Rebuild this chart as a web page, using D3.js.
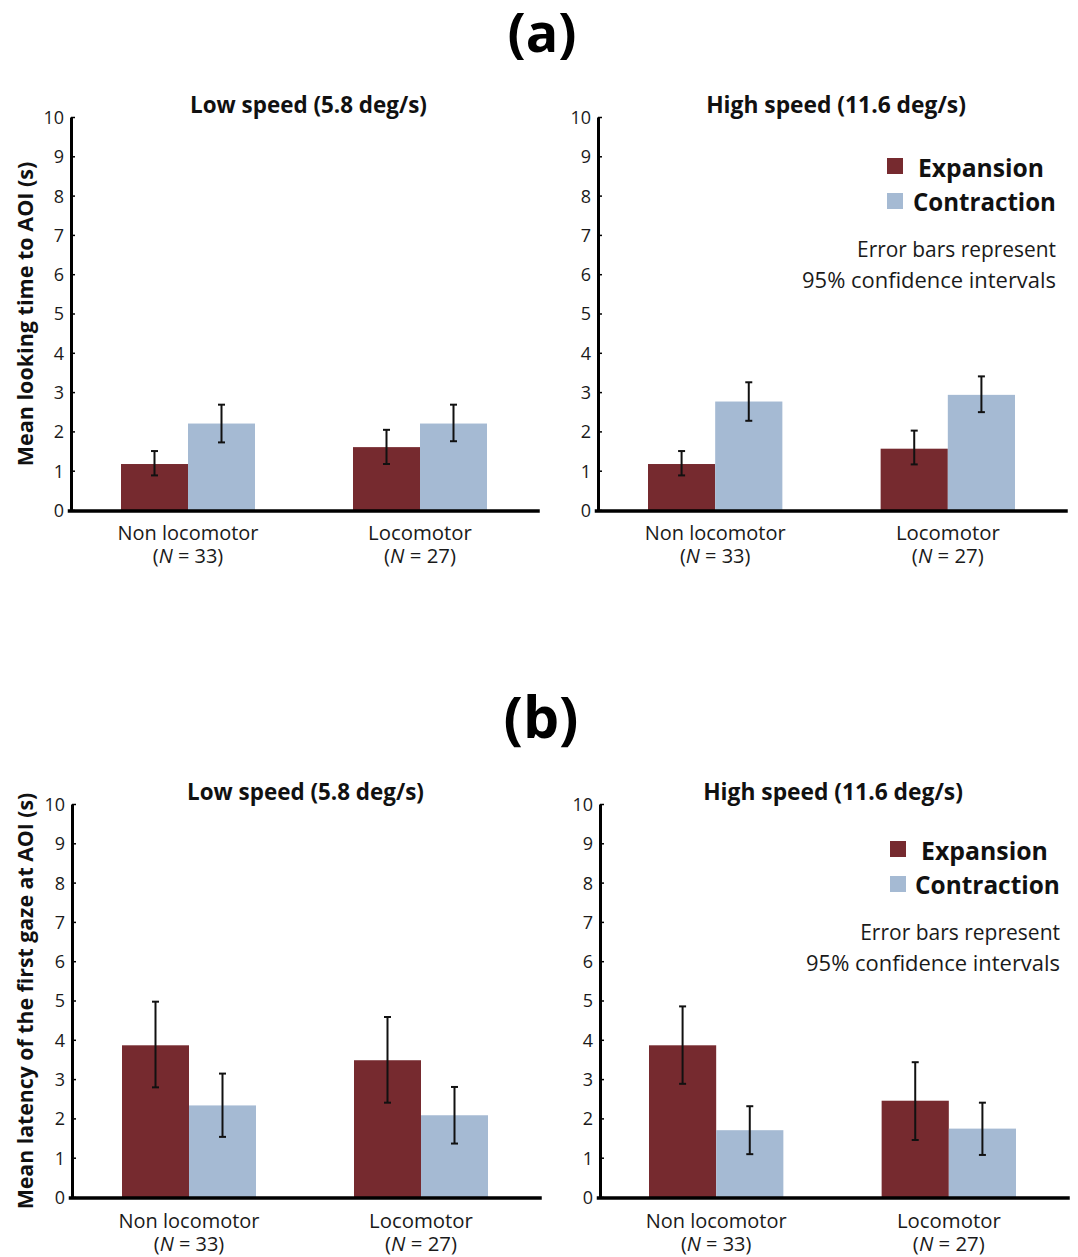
<!DOCTYPE html>
<html><head><meta charset="utf-8">
<script src="https://cdn.jsdelivr.net/npm/d3@7"></script>
<style>body{margin:0;background:#fff} svg{display:block;background:#fff}</style>
</head><body><svg id="chart" width="1078" height="1257"></svg>
<script>
// ---------- data ----------
const categories = ["Non locomotor", "Locomotor"];
const groupN = ["33", "27"];
const seriesNames = ["Expansion", "Contraction"];
const yTickValues = [0, 1, 2, 3, 4, 5, 6, 7, 8, 9, 10];
const panelTitles = ["Low speed (5.8 deg/s)", "High speed (11.6 deg/s)"];
const figureLabels = ["(a)", "(b)"];
const yAxisTitles = ["Mean looking time to AOI (s)", "Mean latency of the first gaze at AOI (s)"];
const noteLines = ["Error bars represent", "95% confidence intervals"];

// (a) mean looking time, low speed
const aLowExpansion   = [1.17, 1.60];
const aLowExpansionLo = [0.88, 1.17];
const aLowExpansionHi = [1.50, 2.04];
const aLowContraction   = [2.20, 2.20];
const aLowContractionLo = [1.72, 1.75];
const aLowContractionHi = [2.68, 2.68];
// (a) mean looking time, high speed
const aHighExpansion   = [1.17, 1.56];
const aHighExpansionLo = [0.88, 1.16];
const aHighExpansionHi = [1.50, 2.02];
const aHighContraction   = [2.76, 2.93];
const aHighContractionLo = [2.27, 2.49];
const aHighContractionHi = [3.25, 3.40];
// (b) latency of first gaze, low speed
const bLowExpansion   = [3.86, 3.48];
const bLowExpansionLo = [2.79, 2.40];
const bLowExpansionHi = [4.97, 4.58];
const bLowContraction   = [2.33, 2.08];
const bLowContractionLo = [1.53, 1.36];
const bLowContractionHi = [3.14, 2.80];
// (b) latency of first gaze, high speed
const bHighExpansion   = [3.86, 2.45];
const bHighExpansionLo = [2.88, 1.45];
const bHighExpansionHi = [4.85, 3.43];
const bHighContraction   = [1.70, 1.74];
const bHighContractionLo = [1.09, 1.07];
const bHighContractionHi = [2.31, 2.40];

const colors = {Expansion: "#762a2f", Contraction: "#a5bad3"};
const FONT = "'Open Sans', 'Noto Sans', sans-serif";

const svg = d3.select("#chart");
svg.append("rect").attr("width", 1078).attr("height", 1257).attr("fill", "#fff");

function fit(sel, width) {
  const w = sel.node().getComputedTextLength();
  const fs = parseFloat(sel.attr("font-size"));
  sel.attr("font-size", fs * width / w);
  return sel;
}

// ---------- layout ----------
const panels = [
  {exp: aLowExpansion, expLo: aLowExpansionLo, expHi: aLowExpansionHi,
   con: aLowContraction, conLo: aLowContractionLo, conHi: aLowContractionHi,
   ax: 71, axEnd: 538, yTop: 117, yBot: 510, b0: 121, b1: 487,
   title: panelTitles[0], tx: 308.5, tyB: 113, tw: 237, catY: 540, legend: null},
  {exp: aHighExpansion, expLo: aHighExpansionLo, expHi: aHighExpansionHi,
   con: aHighContraction, conLo: aHighContractionLo, conHi: aHighContractionHi,
   ax: 598, axEnd: 1066, yTop: 117, yBot: 510, b0: 648, b1: 1015,
   title: panelTitles[1], tx: 836, tyB: 113, tw: 260, catY: 540,
   legend: {sx: 887, sy: 158, ex: 918, ew: 126, cx: 913, cw: 143, nr: 1056, n1w: 199, n2w: 254, n1y: 257, n2y: 288}},
  {exp: bLowExpansion, expLo: bLowExpansionLo, expHi: bLowExpansionHi,
   con: bLowContraction, conLo: bLowContractionLo, conHi: bLowContractionHi,
   ax: 72, axEnd: 540, yTop: 804, yBot: 1197, b0: 122, b1: 488,
   title: panelTitles[0], tx: 305.5, tyB: 800, tw: 237, catY: 1228, legend: null},
  {exp: bHighExpansion, expLo: bHighExpansionLo, expHi: bHighExpansionHi,
   con: bHighContraction, conLo: bHighContractionLo, conHi: bHighContractionHi,
   ax: 600, axEnd: 1068, yTop: 804, yBot: 1197, b0: 649, b1: 1016,
   title: panelTitles[1], tx: 833, tyB: 800, tw: 260, catY: 1228,
   legend: {sx: 890, sy: 841, ex: 921, ew: 127, cx: 915, cw: 145, nr: 1060, n1w: 200, n2w: 254, n1y: 940, n2y: 971}}
];

panels.forEach(p => {
  const g = svg.append("g");
  const y = d3.scaleLinear().domain([0, 10]).range([p.yBot, p.yTop]);
  const x = d3.scaleBand().domain(categories).range([p.b0, p.b1]).paddingInner(0.4224).paddingOuter(0);
  const xs = d3.scaleBand().domain(seriesNames).range([0, x.bandwidth()]).padding(0);

  // bars
  const rows = categories.map((c, i) => ({
    cat: c,
    vals: [
      {s: "Expansion", v: p.exp[i], lo: p.expLo[i], hi: p.expHi[i]},
      {s: "Contraction", v: p.con[i], lo: p.conLo[i], hi: p.conHi[i]}
    ]
  }));
  const grp = g.selectAll("g.grp").data(rows).join("g")
    .attr("transform", d => `translate(${x(d.cat)},0)`);
  grp.selectAll("rect").data(d => d.vals).join("rect")
    .attr("x", d => xs(d.s)).attr("width", xs.bandwidth())
    .attr("y", d => y(d.v)).attr("height", d => y(0) - y(d.v))
    .attr("fill", d => colors[d.s]);
  // error bars
  const eb = grp.selectAll("g.eb").data(d => d.vals).join("g")
    .attr("transform", d => `translate(${xs(d.s) + xs.bandwidth() / 2},0)`);
  eb.append("line").attr("y1", d => y(d.lo)).attr("y2", d => y(d.hi))
    .attr("stroke", "#111").attr("stroke-width", 2);
  eb.append("line").attr("x1", -3.5).attr("x2", 3.5).attr("y1", d => y(d.hi)).attr("y2", d => y(d.hi))
    .attr("stroke", "#111").attr("stroke-width", 2);
  eb.append("line").attr("x1", -3.5).attr("x2", 3.5).attr("y1", d => y(d.lo)).attr("y2", d => y(d.lo))
    .attr("stroke", "#111").attr("stroke-width", 2);

  // y axis
  const yAxis = d3.axisLeft(y).tickValues(yTickValues).tickFormat(d3.format("d"))
    .tickSizeInner(-4).tickSizeOuter(0).tickPadding(7);
  const ya = g.append("g").attr("transform", `translate(${p.ax},0)`).call(yAxis);
  ya.select(".domain").attr("stroke", "#000").attr("stroke-width", 3);
  ya.selectAll(".tick line").attr("stroke", "#000").attr("stroke-width", 1.5);
  ya.selectAll(".tick text").attr("font-family", FONT).attr("font-size", 18)
    .attr("fill", "#1a1a1a").attr("dy", "0.36em");

  // x axis line
  g.append("line").attr("x1", p.ax - 1.5).attr("x2", p.axEnd)
    .attr("y1", y(0) + 1).attr("y2", y(0) + 1)
    .attr("stroke", "#000").attr("stroke-width", 3.5).attr("stroke-linecap", "square");

  // category labels
  categories.forEach((c, i) => {
    const cx = x(c) + x.bandwidth() / 2;
    const t1 = g.append("text").attr("x", cx).attr("y", p.catY)
      .attr("text-anchor", "middle").attr("font-family", FONT).attr("font-size", 19)
      .attr("fill", "#1a1a1a").text(c);
    fit(t1, i === 0 ? 141 : 104);
    const t2 = g.append("text").attr("x", cx).attr("y", p.catY + 23)
      .attr("text-anchor", "middle").attr("font-family", FONT).attr("font-size", t1.attr("font-size"))
      .attr("fill", "#1a1a1a");
    t2.append("tspan").text("(");
    t2.append("tspan").attr("font-style", "italic").text("N");
    t2.append("tspan").text(" = " + groupN[i] + ")");
  });

  // panel title
  const tt = g.append("text").attr("x", p.tx).attr("y", p.tyB).attr("text-anchor", "middle")
    .attr("font-family", FONT).attr("font-weight", "bold").attr("font-size", 20)
    .attr("fill", "#111").text(p.title);
  fit(tt, p.tw);

  // legend
  if (p.legend) {
    const L = p.legend;
    seriesNames.forEach((s, i) => {
      g.append("rect").attr("x", L.sx).attr("y", L.sy + i * 35).attr("width", 16).attr("height", 16)
        .attr("fill", colors[s]);
      const lt = g.append("text").attr("x", i === 0 ? L.ex : L.cx).attr("y", L.sy + 19 + i * 34)
        .attr("font-family", FONT).attr("font-weight", "bold").attr("font-size", 24)
        .attr("fill", "#111").text(s);
      fit(lt, i === 0 ? L.ew : L.cw);
    });
    const n1 = g.append("text").attr("x", L.nr).attr("y", L.n1y).attr("text-anchor", "end")
      .attr("font-family", FONT).attr("font-size", 20).attr("fill", "#1a1a1a").text(noteLines[0]);
    fit(n1, L.n1w);
    const n2 = g.append("text").attr("x", L.nr).attr("y", L.n2y).attr("text-anchor", "end")
      .attr("font-family", FONT).attr("font-size", 20).attr("fill", "#1a1a1a").text(noteLines[1]);
    fit(n2, L.n2w);
  }
});

// figure labels (a), (b)
const fl = [{x: 542, y: 52, w: 69}, {x: 541, y: 738, w: 75}];
figureLabels.forEach((lab, i) => {
  const t = svg.append("text").attr("x", fl[i].x).attr("y", fl[i].y).attr("text-anchor", "middle")
    .attr("font-family", FONT).attr("font-weight", "bold").attr("font-size", 56)
    .attr("fill", "#000").text(lab);
  fit(t, fl[i].w);
});

// y axis titles
const yt = [{cx: 26, cy: 314, len: 305}, {cx: 26, cy: 1001, len: 417}];
yAxisTitles.forEach((s, i) => {
  const t = svg.append("text")
    .attr("transform", `translate(${yt[i].cx + 7},${yt[i].cy}) rotate(-90)`)
    .attr("text-anchor", "middle").attr("font-family", FONT).attr("font-weight", "bold")
    .attr("font-size", 21).attr("fill", "#111").text(s);
  fit(t, yt[i].len);
});
</script>
</body></html>
